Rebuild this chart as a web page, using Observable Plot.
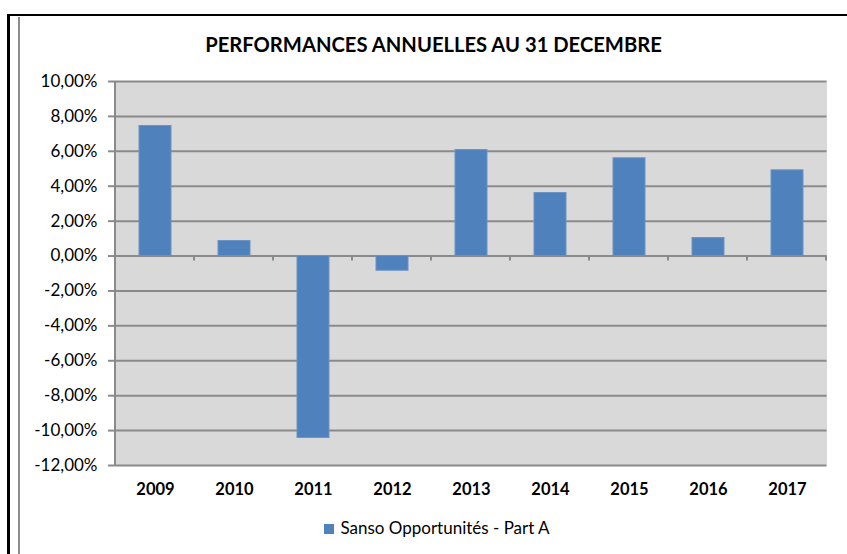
<!DOCTYPE html>
<html><head><meta charset="utf-8">
<script src="https://cdn.jsdelivr.net/npm/d3@7"></script>
<script src="https://cdn.jsdelivr.net/npm/@observablehq/plot@0.6"></script>
<style>
body{margin:0;background:#fff;}
#wrap{position:relative;width:847px;height:554px;overflow:hidden;background:#fff;font-family:Lato,"Open Sans",sans-serif;}
#title{position:absolute;left:0;width:867px;top:32px;text-align:center;font-weight:bold;font-size:20.2px;color:#000;}
#legend{position:absolute;top:517px;left:0;width:874px;text-align:center;font-size:17px;color:#000;}
#legend span.sw{display:inline-block;width:10px;height:10px;background:#4f81bd;margin-right:6px;vertical-align:0px;}
.b{position:absolute;}
#chart{position:absolute;left:0;top:60px;}
</style></head>
<body><div id="wrap">
<div class="b" style="left:8px;top:14px;width:839px;height:2px;background:#000"></div>
<div class="b" style="left:7px;top:14px;width:3px;height:540px;background:#000"></div>
<div class="b" style="left:18px;top:17px;width:1.5px;height:537px;background:#8c8c8c"></div>
<div id="title">PERFORMANCES ANNUELLES AU 31 DECEMBRE</div>
<div id="chart"></div>
<div id="legend"><span class="sw"></span>Sanso Opportunités - Part A</div>
</div>
<script>
const years = ["2009","2010","2011","2012","2013","2014","2015","2016","2017"];
const perf = [7.45, 0.86, -10.42, -0.84, 6.07, 3.61, 5.60, 1.03, 4.91];
const yTicks = [10, 8, 6, 4, 2, 0, -2, -4, -6, -8, -10, -12];
const seriesName = "Sanso Opportunités - Part A";

const data = years.map((y, i) => ({year: y, value: perf[i]}));
const fmt = d => d.toFixed(2).replace(".", ",") + "%";
const grid = "#8a8a8a";

const plot = Plot.plot({
  width: 847,
  height: 455,
  marginLeft: 115,
  marginRight: 20.5,
  marginTop: 21,
  marginBottom: 50,
  style: {fontFamily: "Lato, 'Open Sans', sans-serif", background: "transparent", overflow: "visible"},
  x: {domain: years, paddingInner: 0.6, paddingOuter: 0.3},
  y: {domain: [-12, 10]},
  marks: [
    Plot.frame({fill: "#d9d9d9", stroke: "none"}),
    Plot.ruleY(yTicks, {stroke: grid, strokeWidth: 2}),
    Plot.barY(data, {x: "year", y: "value", fill: "#4f81bd", stroke: "#6a93c6", strokeWidth: 1}),
    Plot.axisY(yTicks, {ticks: yTicks, tickFormat: fmt, tickSize: 7, tickPadding: 11, stroke: grid, strokeWidth: 2, fontSize: 17, fill: "#000", label: null}),
    Plot.axisX({tickSize: 0, tickPadding: 18, fontSize: 16.5, fontWeight: "bold", fill: "#000", label: null})
  ]
});
document.getElementById("chart").appendChild(plot);

// axis line and category boundary ticks, placed from the plot's own scales
const sx = plot.scale("x"), sy = plot.scale("y");
const [x0, x1] = sx.range;
const [yb, yt] = sy.range;
const step = sx.step;
const svg = d3.select(plot);
const zero = sy.apply(0);
const g = svg.append("g").attr("stroke", grid).attr("stroke-width", 2);
g.append("line").attr("x1", x0).attr("x2", x0).attr("y1", Math.min(yb, yt)).attr("y2", Math.max(yb, yt));
for (let i = 1; i <= years.length; i++) {
  const xx = x0 + i * step;
  g.append("line").attr("x1", xx).attr("x2", xx).attr("y1", zero).attr("y2", zero + 5);
}
</script>
</body></html>
